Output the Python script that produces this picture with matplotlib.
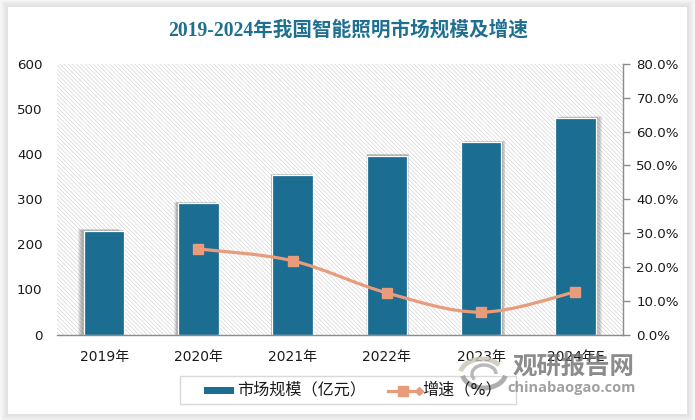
import numpy as np
import matplotlib
matplotlib.use("Agg")
import matplotlib.pyplot as plt
from matplotlib.patches import Rectangle, PathPatch, Arc
from matplotlib.path import Path

plt.rcParams["font.family"] = ["DejaVu Sans", "Noto Sans CJK SC"]
plt.rcParams["hatch.linewidth"] = 0.5
plt.rcParams["hatch.color"] = "#d6d6d6"

# Data
years = ["2019年", "2020年", "2021年", "2022年", "2023年", "2024年E"]
market_size = [230, 291, 353, 397, 426, 480]
growth_years = [1, 2, 3, 4, 5]
growth_rate = [25.3, 21.8, 12.3, 6.6, 12.6]
left_ticks = [0, 100, 200, 300, 400, 500, 600]
right_ticks = [0, 10, 20, 30, 40, 50, 60, 70, 80]

title = "2019-2024年我国智能照明市场规模及增速"
bar_label = "市场规模（亿元）"
line_label = "增速（%）"

bar_color = "#1c6d92"
line_color = "#e89c7c"
axis_color = "#8c8c8c"
text_color = "#1a1a1a"

W, H = 695, 420
fig = plt.figure(figsize=(W / 100, H / 100), dpi=100, facecolor="white")

# Background card with soft shadow, in pixel coordinates
bg = fig.add_axes([0, 0, 1, 1], zorder=0)
bg.set_xlim(0, W)
bg.set_ylim(H, 0)
bg.axis("off")
for grow, col in [(8, "#f6f6f6"), (6, "#efefef"), (4, "#e8e8e8"), (2, "#e2e2e2")]:
    bg.add_patch(Rectangle((8 - grow, 7 - grow), 679 + 2 * grow, 407 + 2 * grow, fc=col, ec="none"))
bg.add_patch(Rectangle((8, 7), 679, 407, fc="white", ec="none"))

# Main axes
ax = fig.add_axes([57 / W, (H - 334.5) / H, 565.5 / W, 270.5 / H], zorder=1)
ax.patch.set_visible(False)
ax.set_xlim(-0.5, 5.5)
ax.set_ylim(0, 600)
ax.add_patch(Rectangle((0, 0), 1, 1, transform=ax.transAxes, fc="white", ec="#d6d6d6",
                       lw=0, hatch="\\" * 8, zorder=0))

x = np.arange(len(years))
values = np.array(market_size)
# Shadow falls away from the chart centre, several thin layers so it fades out
for s in [1.0, 0.8, 0.6, 0.4, 0.2]:
    ax.bar(x + (x - 2.5) * 0.024 * s, values + 4 * s, width=0.44, color="#444444", alpha=0.1,
           lw=0, zorder=1)
ax.bar(x, values, width=0.43, color=bar_color, edgecolor="white", linewidth=0.9, zorder=2)

ax.set_xticks(x)
ax.set_xticklabels(years, fontsize=10, color=text_color)
ax.set_yticks(left_ticks)
ax.tick_params(axis="y", length=0, pad=10.5, labelsize=9.6, labelcolor=text_color)
ax.tick_params(axis="x", length=0, pad=11)
for side in ["top", "left", "right"]:
    ax.spines[side].set_visible(False)
ax.spines["bottom"].set_color(axis_color)
ax.spines["bottom"].set_linewidth(1)

# Secondary axis for the growth rate
ax2 = ax.twinx()
ax2.patch.set_visible(False)
ax2.set_ylim(0, 80)
ax2.set_yticks(right_ticks)
ax2.set_yticklabels([f"{t:.1f}%" for t in right_ticks], fontsize=9.6, color=text_color)
ax2.tick_params(axis="y", length=5, width=1, color=axis_color, pad=5)
for side in ["top", "left", "bottom"]:
    ax2.spines[side].set_visible(False)
ax2.spines["right"].set_color(axis_color)
ax2.spines["right"].set_linewidth(1)

# Smoothed line, Bezier through the data points
px = np.array(growth_years, dtype=float)
py = np.array(growth_rate, dtype=float)
verts = [(px[0], py[0])]
codes = [Path.MOVETO]
for i in range(len(px) - 1):
    a = max(i - 1, 0)
    b = min(i + 2, len(px) - 1)
    verts.append((px[i] + (px[i + 1] - px[a]) / 6, py[i] + (py[i + 1] - py[a]) / 6))
    verts.append((px[i + 1] - (px[b] - px[i]) / 6, py[i + 1] - (py[b] - py[i]) / 6))
    verts.append((px[i + 1], py[i + 1]))
    codes += [Path.CURVE4, Path.CURVE4, Path.CURVE4]
ax2.add_patch(PathPatch(Path(verts, codes), fc="none", ec=line_color, lw=2.3, zorder=3))
ax2.plot(growth_years, growth_rate, ls="none", marker="s", ms=7.2, color=line_color, zorder=4)

# Overlay for title, legend and watermark, in pixel coordinates
top = fig.add_axes([0, 0, 1, 1], zorder=5)
top.patch.set_visible(False)
top.set_xlim(0, W)
top.set_ylim(H, 0)
top.axis("off")

top.text(348.5, 31, title, ha="center", va="center", fontsize=14.1, fontweight="bold",
         color="#1f6f90", family=["Liberation Serif", "Noto Sans CJK SC"])

top.add_patch(Rectangle((179.5, 375.5), 336, 28, fc="white", ec="#d9d9d9", lw=1))
top.add_patch(Rectangle((204, 387), 30, 7, fc=bar_color, ec="none"))
top.text(237, 390, bar_label, ha="left", va="center", fontsize=11.6, color=text_color)
top.plot([388, 420], [390.5, 390.5], color=line_color, lw=2.3)
top.plot([403], [390.5], marker="s", ms=7.2, color=line_color)
top.plot([419], [390.5], marker="D", ms=4.5, color=line_color)
top.text(422, 390, line_label, ha="left", va="center", fontsize=11.6, color=text_color)

# Watermark
top.text(574, 367, "观研报告网", ha="center", va="center", fontsize=17.6, fontweight="black",
         color="#6f6f6f", alpha=0.8, family="Noto Sans CJK SC")
top.text(572, 388, "chinabaogao.com", ha="center", va="center", fontsize=10.5, fontweight="bold",
         color="#8a8a8a", alpha=0.8, family="Open Sans")
top.add_patch(Arc((482, 375), 44, 32, theta1=190, theta2=330, ec="#c9c5b5", lw=3.5, alpha=0.8))
top.add_patch(Arc((484, 372), 44, 32, theta1=10, theta2=170, ec="#9a9a9a", lw=3.5, alpha=0.8))
top.add_patch(Arc((484, 374), 24, 18, theta1=150, theta2=360, ec="#a8a8a8", lw=2.5, alpha=0.8))

fig.savefig("out.png", dpi=100)
